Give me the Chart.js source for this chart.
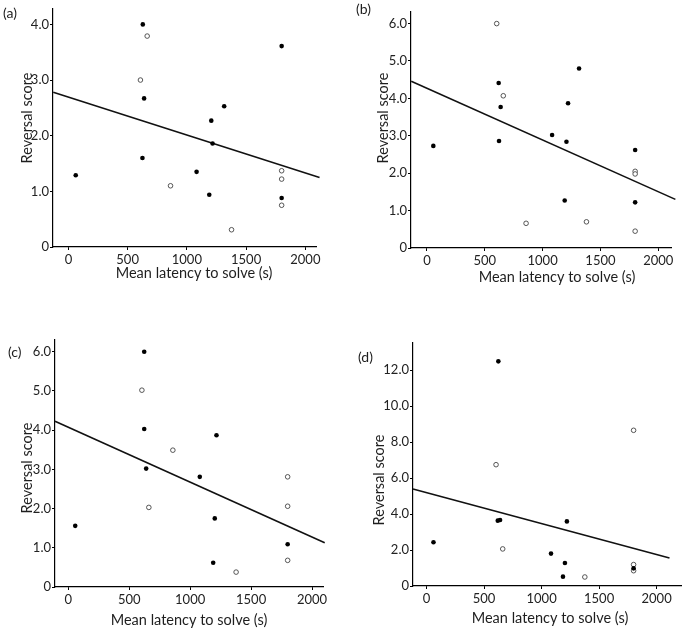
<!DOCTYPE html>
<html>
<head>
<meta charset="utf-8">
<script src="https://cdn.jsdelivr.net/npm/chart.js@4.4.0/dist/chart.umd.min.js"></script>
<style>
  html, body { margin: 0; padding: 0; background: #fff; }
  #wrap { position: relative; width: 686px; height: 629px; overflow: hidden; }
  #wrap canvas { position: absolute; }
</style>
</head>
<body>
<div id="wrap">
  <canvas id="panelA"></canvas>
  <canvas id="panelB"></canvas>
  <canvas id="panelC"></canvas>
  <canvas id="panelD"></canvas>
</div>
<script>
const FONT = "Lato, 'Open Sans', sans-serif";

const xTicks = [0, 500, 1000, 1500, 2000];
const xTitle = "Mean latency to solve (s)";
const yTitle = "Reversal score";

// (a)
const aSolvedX = [628, 639, 625, 62, 1800, 1315, 1206, 1217, 1082, 1189, 1800];
const aSolvedY = [4.0, 2.67, 1.60, 1.29, 3.61, 2.53, 2.27, 1.86, 1.35, 0.94, 0.88];
const aOpenX = [665, 608, 862, 1800, 1800, 1800, 1377];
const aOpenY = [3.79, 3.0, 1.10, 1.37, 1.22, 0.75, 0.31];
const aFitX = [-128, 2120];
const aFitY = [2.78, 1.25];
const aYTicks = [0, 1, 2, 3, 4];

// (b)
const bSolvedX = [55, 620, 637, 623, 1082, 1315, 1220, 1206, 1191, 1800, 1800];
const bSolvedY = [2.73, 4.41, 3.77, 2.86, 3.02, 4.80, 3.87, 2.84, 1.27, 2.62, 1.22];
const bOpenX = [603, 660, 857, 1379, 1800, 1800, 1800];
const bOpenY = [6.0, 4.07, 0.66, 0.70, 2.05, 1.98, 0.45];
const bFitX = [-136, 2148];
const bFitY = [4.46, 1.30];
const bYTicks = [0, 1, 2, 3, 4, 5, 6];

// (c)
const cSolvedX = [623, 623, 639, 57, 1216, 1079, 1202, 1189, 1800];
const cSolvedY = [6.0, 4.03, 3.02, 1.56, 3.87, 2.81, 1.75, 0.62, 1.09];
const cOpenX = [604, 858, 661, 1800, 1800, 1800, 1377];
const cOpenY = [5.02, 3.49, 2.03, 2.81, 2.06, 0.68, 0.38];
const cFitX = [-109, 2104];
const cFitY = [4.23, 1.13];
const cYTicks = [0, 1, 2, 3, 4, 5, 6];

// (d)
const dSolvedX = [624, 619, 639, 60, 1220, 1082, 1203, 1186, 1800];
const dSolvedY = [12.48, 3.63, 3.67, 2.43, 3.59, 1.80, 1.28, 0.52, 0.98];
const dOpenX = [604, 1800, 662, 1376, 1800, 1800];
const dOpenY = [6.74, 8.65, 2.06, 0.50, 1.19, 0.85];
const dFitX = [-118, 2112];
const dFitY = [5.39, 1.56];
const dYTicks = [0, 2, 4, 6, 8, 10, 12];

function pairs(xs, ys) {
  return xs.map((x, i) => ({ x, y: ys[i] }));
}

function tickLabel(v) {
  return v === 0 ? "0" : v.toFixed(1);
}

// draws the panel letter and the two axis titles at fixed spots
const labelsPlugin = {
  id: "panelLabels",
  afterDraw(chart) {
    const o = chart.options.plugins.panelLabels;
    const ctx = chart.ctx;
    ctx.save();
    ctx.fillStyle = "#1e1e1e";
    ctx.textBaseline = "middle";

    ctx.font = "14px " + FONT;
    ctx.textAlign = "left";
    ctx.fillText(o.letter, o.letterX, o.letterY);

    ctx.font = "14.5px " + FONT;
    ctx.textAlign = "center";
    ctx.fillText(xTitle, o.xTitleX, o.xTitleY);

    ctx.translate(o.yTitleX, o.yTitleY);
    ctx.rotate(-Math.PI / 2);
    ctx.fillText(yTitle, 0, 0);
    ctx.restore();
  }
};

function makePanel(id, p) {
  const canvas = document.getElementById(id);
  canvas.style.left = p.left + "px";
  canvas.style.top = p.top + "px";
  canvas.width = 343;
  canvas.height = 315;
  canvas.style.width = "343px";
  canvas.style.height = "315px";

  const axisCommon = {
    type: "linear",
    grid: {
      display: true,
      drawOnChartArea: false,
      drawTicks: true,
      tickLength: 3,
      color: "#000",
      lineWidth: 1
    },
    border: { display: true, color: "#000", width: 1.2 }
  };

  return new Chart(canvas, {
    type: "scatter",
    data: {
      datasets: [
        {
          type: "line",
          data: pairs(p.fitX, p.fitY),
          borderColor: "#111",
          borderWidth: 1.6,
          pointRadius: 0,
          fill: false,
          clip: false,
          order: 3
        },
        {
          data: pairs(p.solvedX, p.solvedY),
          pointRadius: 2.3,
          pointBackgroundColor: "#000",
          pointBorderWidth: 0,
          order: 1
        },
        {
          data: pairs(p.openX, p.openY),
          pointRadius: 2.3,
          pointBackgroundColor: "#fff",
          pointBorderColor: "#444",
          pointBorderWidth: 0.9,
          order: 2
        }
      ]
    },
    options: {
      responsive: false,
      animation: false,
      events: [],
      layout: {
        padding: { left: 0, top: p.areaTop, right: 343 - p.areaRight, bottom: 0 }
      },
      plugins: {
        legend: { display: false },
        tooltip: { enabled: false },
        panelLabels: p.labels
      },
      scales: {
        x: {
          ...axisCommon,
          min: p.xMin,
          max: p.xMax,
          afterBuildTicks: (s) => { s.ticks = xTicks.map((v) => ({ value: v })); },
          afterFit: (s) => { s.height = 315 - p.areaBottom; },
          ticks: {
            padding: 2,
            color: "#222",
            font: { family: FONT, size: 13 },
            maxRotation: 0,
            callback: (v) => String(v)
          }
        },
        y: {
          ...axisCommon,
          min: 0,
          max: p.yMax,
          afterBuildTicks: (s) => { s.ticks = p.yTicks.map((v) => ({ value: v })); },
          afterFit: (s) => { s.width = p.areaLeft; },
          ticks: {
            padding: 1,
            color: "#222",
            font: { family: FONT, size: 13 },
            callback: (v) => tickLabel(v)
          }
        }
      }
    },
    plugins: [labelsPlugin]
  });
}

makePanel("panelA", {
  left: 0, top: 0,
  areaLeft: 53, areaTop: 5, areaRight: 316, areaBottom: 247,
  xMin: -130, xMax: 2090, yMax: 4.28, yTicks: aYTicks,
  solvedX: aSolvedX, solvedY: aSolvedY, openX: aOpenX, openY: aOpenY,
  fitX: aFitX, fitY: aFitY,
  labels: { letter: "(a)", letterX: 3, letterY: 13, xTitleX: 194, xTitleY: 273, yTitleX: 27, yTitleY: 118 }
});

makePanel("panelB", {
  left: 343, top: 0,
  areaLeft: 68, areaTop: 12, areaRight: 328, areaBottom: 248,
  xMin: -138, xMax: 2110, yMax: 6.31, yTicks: bYTicks,
  solvedX: bSolvedX, solvedY: bSolvedY, openX: bOpenX, openY: bOpenY,
  fitX: bFitX, fitY: bFitY,
  labels: { letter: "(b)", letterX: 13, letterY: 9, xTitleX: 214, xTitleY: 277, yTitleX: 40, yTitleY: 118 }
});

makePanel("panelC", {
  left: 0, top: 314,
  areaLeft: 55, areaTop: 26, areaRight: 323, areaBottom: 273,
  xMin: -109, xMax: 2090, yMax: 6.30, yTicks: cYTicks,
  solvedX: cSolvedX, solvedY: cSolvedY, openX: cOpenX, openY: cOpenY,
  fitX: cFitX, fitY: cFitY,
  labels: { letter: "(c)", letterX: 8, letterY: 38, xTitleX: 189, xTitleY: 306, yTitleX: 27, yTitleY: 154 }
});

makePanel("panelD", {
  left: 343, top: 314,
  areaLeft: 70, areaTop: 29, areaRight: 340, areaBottom: 272,
  xMin: -118, xMax: 2213, yMax: 13.5, yTicks: dYTicks,
  solvedX: dSolvedX, solvedY: dSolvedY, openX: dOpenX, openY: dOpenY,
  fitX: dFitX, fitY: dFitY,
  labels: { letter: "(d)", letterX: 15, letterY: 43, xTitleX: 207, xTitleY: 304, yTitleX: 36, yTitleY: 166 }
});
</script>
</body>
</html>
